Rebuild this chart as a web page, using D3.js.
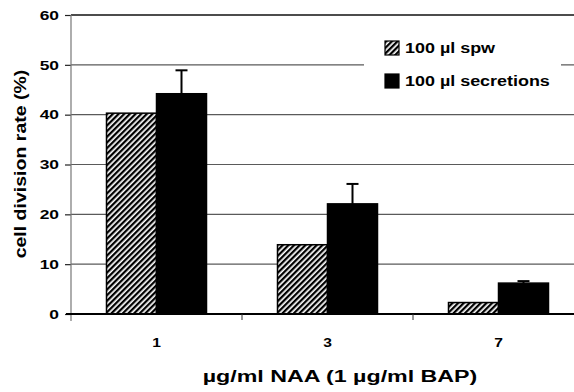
<!DOCTYPE html>
<html lang="en">
<head>
<meta charset="utf-8">
<title>cell division rate</title>
<script src="https://d3js.org/d3.v7.min.js"></script>
<style>
  body { margin: 0; background: #fff; }
  text { font-family: "Liberation Sans", Arial, sans-serif; font-weight: bold; fill: #000; }
</style>
</head>
<body>
<script>
// data
var doses = ["1", "3", "7"];
var seriesNames = ["100 µl spw", "100 µl secretions"];
var spw = [40.3, 13.9, 2.3];
var secretions = [44.2, 22.1, 6.2];
var secretionsErr = [4.7, 4.0, 0.4];
var yTicks = [0, 10, 20, 30, 40, 50, 60];

var w = 574, h = 392;

var svg = d3.select("body").append("svg")
  .attr("width", w)
  .attr("height", h);

// the scanned lettering is wider than the font, stretch it a bit
function stretch(sel, factor) {
  sel.each(function () {
    var len = this.getComputedTextLength();
    d3.select(this)
      .attr("textLength", len * factor)
      .attr("lengthAdjust", "spacingAndGlyphs");
  });
}

// hatch pattern for the spw bars
var defs = svg.append("defs");
var pat = defs.append("pattern")
  .attr("id", "hatch")
  .attr("patternUnits", "userSpaceOnUse")
  .attr("width", 4)
  .attr("height", 4)
  .attr("patternTransform", "rotate(45)");
pat.append("rect").attr("width", 4).attr("height", 4).attr("fill", "#fff");
pat.append("rect").attr("width", 2.3).attr("height", 4).attr("fill", "#000");

var x0 = d3.scaleBand()
  .domain(doses)
  .range([71, 584]);

var x1 = d3.scaleBand()
  .domain(seriesNames)
  .range([0, 100]);

var y = d3.scaleLinear()
  .domain([0, 60])
  .range([314, 15]);

// gridlines
svg.append("g")
  .selectAll("line")
  .data(yTicks.filter(function (d) { return d > 0 && d < 60; }))
  .enter().append("line")
  .attr("x1", 71)
  .attr("x2", w)
  .attr("y1", function (d) { return y(d); })
  .attr("y2", function (d) { return y(d); })
  .attr("stroke", "#5a5a5a")
  .attr("stroke-width", 1.2);

// top border
svg.append("line")
  .attr("x1", 71).attr("x2", w)
  .attr("y1", y(60)).attr("y2", y(60))
  .attr("stroke", "#111").attr("stroke-width", 1.6);

// y axis
var yAxis = d3.axisLeft(y).tickValues(yTicks).tickSize(6).tickPadding(6);
var gy = svg.append("g")
  .attr("transform", "translate(71,0)")
  .call(yAxis);
gy.select(".domain").remove();
gy.selectAll(".tick line").attr("stroke", "#222").attr("stroke-width", 1.2);
gy.selectAll(".tick text")
  .style("font-size", "12px")
  .attr("dy", "0.35em")
  .call(stretch, 1.45);
svg.append("line")
  .attr("x1", 71).attr("x2", 71)
  .attr("y1", y(60)).attr("y2", 321)
  .attr("stroke", "#777").attr("stroke-width", 1.2);

// bars
var groups = svg.append("g")
  .selectAll("g")
  .data(doses)
  .enter().append("g")
  .attr("transform", function (d) {
    return "translate(" + (x0(d) + x0.bandwidth() / 2 - 50) + ",0)";
  });

groups.append("rect")
  .attr("x", x1(seriesNames[0]))
  .attr("y", function (d, i) { return y(spw[i]); })
  .attr("width", x1.bandwidth())
  .attr("height", function (d, i) { return y(0) - y(spw[i]); })
  .attr("fill", "url(#hatch)")
  .attr("stroke", "#000")
  .attr("stroke-width", 1.5);

groups.append("rect")
  .attr("x", x1(seriesNames[1]))
  .attr("y", function (d, i) { return y(secretions[i]); })
  .attr("width", x1.bandwidth())
  .attr("height", function (d, i) { return y(0) - y(secretions[i]); })
  .attr("fill", "#000")
  .attr("stroke", "#000")
  .attr("stroke-width", 1.5);

// error bars
var cx = x1(seriesNames[1]) + x1.bandwidth() / 2;
groups.append("line")
  .attr("x1", cx).attr("x2", cx)
  .attr("y1", function (d, i) { return y(secretions[i]); })
  .attr("y2", function (d, i) { return y(secretions[i] + secretionsErr[i]); })
  .attr("stroke", "#000").attr("stroke-width", 2);
groups.append("line")
  .attr("x1", cx - 6).attr("x2", cx + 6)
  .attr("y1", function (d, i) { return y(secretions[i] + secretionsErr[i]); })
  .attr("y2", function (d, i) { return y(secretions[i] + secretionsErr[i]); })
  .attr("stroke", "#000").attr("stroke-width", 2);

// zero line + category separators
svg.append("line")
  .attr("x1", 66).attr("x2", w)
  .attr("y1", y(0)).attr("y2", y(0))
  .attr("stroke", "#000").attr("stroke-width", 2);
svg.append("g")
  .selectAll("line")
  .data(doses.slice(1))
  .enter().append("line")
  .attr("x1", function (d) { return x0(d); })
  .attr("x2", function (d) { return x0(d); })
  .attr("y1", y(0)).attr("y2", y(0) + 6)
  .attr("stroke", "#333").attr("stroke-width", 1);

// category labels
svg.append("g")
  .selectAll("text")
  .data(doses)
  .enter().append("text")
  .attr("x", function (d) { return x0(d) + x0.bandwidth() / 2; })
  .attr("y", 347)
  .attr("text-anchor", "middle")
  .style("font-size", "13px")
  .text(function (d) { return d; })
  .call(stretch, 1.2);

// axis titles
svg.append("text")
  .attr("x", 340)
  .attr("y", 382)
  .attr("text-anchor", "middle")
  .style("font-size", "16px")
  .text("µg/ml NAA (1 µg/ml BAP)")
  .call(stretch, 1.45);

svg.append("text")
  .attr("transform", "translate(26,164) rotate(-90)")
  .attr("text-anchor", "middle")
  .style("font-size", "16px")
  .text("cell division rate (%)")
  .call(stretch, 1.22);

// legend
var legend = svg.append("g");
legend.append("rect")
  .attr("x", 364).attr("y", 24)
  .attr("width", 197).attr("height", 76)
  .attr("fill", "#fff");
var legendFills = ["url(#hatch)", "#000"];
var leg = legend.selectAll("g.item")
  .data(seriesNames)
  .enter().append("g")
  .attr("class", "item")
  .attr("transform", function (d, i) { return "translate(385," + (41 + i * 33) + ")"; });
leg.append("rect")
  .attr("width", 14).attr("height", 14)
  .attr("fill", function (d, i) { return legendFills[i]; })
  .attr("stroke", "#000").attr("stroke-width", 1.2);
leg.append("text")
  .attr("x", 20)
  .attr("y", 12)
  .style("font-size", "14px")
  .text(function (d) { return d; })
  .call(stretch, 1.28);
</script>
</body>
</html>
